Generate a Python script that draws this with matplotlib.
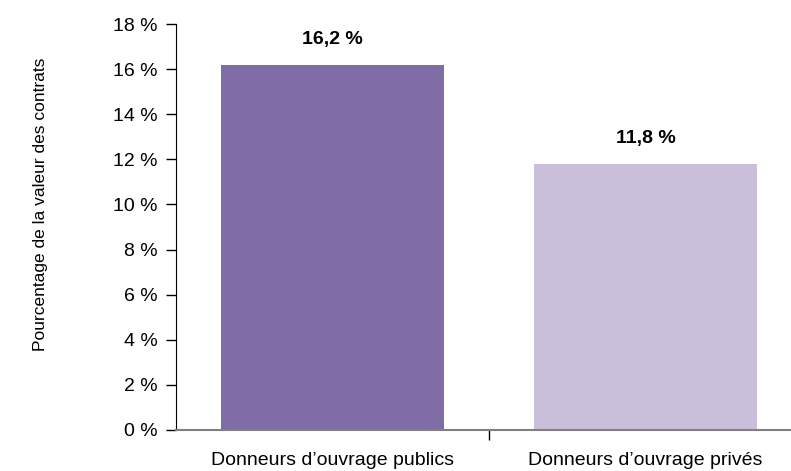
import matplotlib
matplotlib.use("Agg")
import matplotlib.pyplot as plt
from matplotlib.ticker import MultipleLocator, FuncFormatter

categories = ["Donneurs d\u2019ouvrage publics", "Donneurs d\u2019ouvrage priv\u00e9s"]
values = [16.2, 11.8]
value_labels = ["16,2 %", "11,8 %"]
bar_colors = ["#806CA6", "#C9BFDA"]

plt.rcParams['font.family'] = ['Liberation Sans', 'DejaVu Sans']

W, H = 791, 471
fig = plt.figure(figsize=(W/100, H/100), dpi=100)
left, right = 176, 802
bottom, top = 430, 24
ax = fig.add_axes([left/W, 1 - bottom/H, (right-left)/W, (bottom-top)/H])

x = list(range(len(categories)))
ax.bar(x, values, width=0.71, color=bar_colors, zorder=2)
ax.set_xlim(-0.5, 1.5)
ax.set_ylim(0, 18)
ax.yaxis.set_major_locator(MultipleLocator(2))
ax.yaxis.set_major_formatter(FuncFormatter(lambda v, p: f"{int(round(v))} %"))

for xi, v, lab in zip(x, values, value_labels):
    ax.annotate(lab, (xi, v), xytext=(0, 12), textcoords="offset points",
                ha="center", va="bottom", fontsize=14, fontweight="bold")

ax.set_xticks([0.5])
ax.set_xticklabels([""])
ax.tick_params(axis="x", length=7, width=1, color="#000000", direction="out")
ax.tick_params(axis="y", length=7, width=1, labelsize=14, pad=6)
for xi, c in zip(x, categories):
    ax.text(xi, -0.055, c, transform=ax.get_xaxis_transform(), ha="center", va="top", fontsize=14)

ax.spines["top"].set_visible(False)
ax.spines["right"].set_visible(False)
ax.spines["left"].set_color("#000000")
ax.spines["bottom"].set_color("#808080")
ax.spines["bottom"].set_linewidth(1.5)

fig.text(41/W, 1 - 204/H, "Pourcentage de la valeur des contrats", rotation=90,
         ha="center", va="center", fontsize=12.5)

fig.savefig("out.png", dpi=100)
